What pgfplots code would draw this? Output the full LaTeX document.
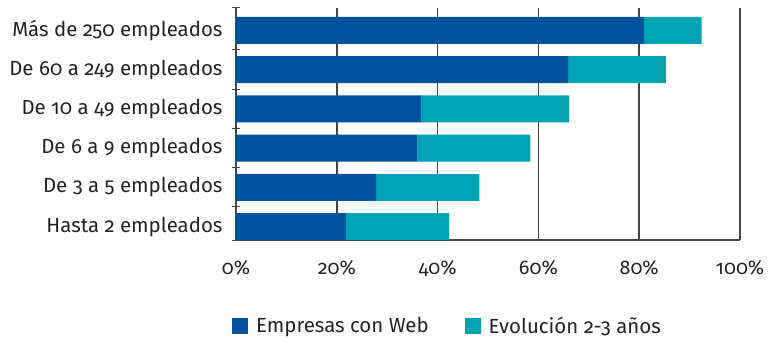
\documentclass[border=0pt]{standalone}
\usepackage{fontspec}
\setmainfont[Numbers=OldStyle]{Fira Sans}
\usepackage{pgfplots}
\pgfplotsset{compat=1.18}
\definecolor{cblue}{HTML}{00529C}
\definecolor{cteal}{HTML}{00A3B2}
\definecolor{cgrid}{HTML}{444444}
\definecolor{ctext}{HTML}{222222}
\begin{document}
\begin{tikzpicture}
\begin{axis}[
  scale only axis,
  width=504bp, height=232bp,
  xbar stacked,
  bar width=27bp,
  xmin=0, xmax=100,
  ymin=-0.343, ymax=5.57,
  xtick={0,20,40,60,80,100},
  xticklabel={\pgfmathprintnumber{\tick}\%},
  /pgf/number format/assume math mode=true,
  ytick={0,1,2,3,4,5},
  yticklabels={Hasta 2 empleados, De 3 a 5 empleados, De 6 a 9 empleados, De 10 a 49 empleados, De 60 a 249 empleados, Más de 250 empleados},
  minor ytick={-0.343,0.5,1.5,2.5,3.5,4.5,5.57},
  major tick length=0pt,
  minor tick length=8bp,
  tick align=center,
  axis x line*=bottom,
  axis y line*=left,
  axis line style={cgrid, line width=1.2bp},
  every tick/.style={cgrid, line width=1bp},
  xmajorgrids,
  major grid style={cgrid, line width=1.5bp},
  yticklabel style={font=\fontsize{20.5}{22}\selectfont, text=ctext, xshift=-10bp},
  xticklabel style={font=\fontsize{19.8}{22}\selectfont, text=ctext, yshift=-17bp},
  legend style={at={(-0.008,-0.37)}, anchor=west, draw=none, inner sep=0pt, legend columns=2,
    font=\fontsize{20.5}{22}\selectfont, text=ctext,
    /tikz/every odd column/.append style={column sep=6bp},
    /tikz/every even column/.append style={column sep=34bp}},
  legend image code/.code={\fill[#1] (0bp,-8bp) rectangle (16bp,8bp);},
]
\addplot[fill=cblue, draw=none] coordinates {(21.8,0) (27.8,1) (35.9,2) (36.7,3) (65.9,4) (81.0,5)};
\addplot[fill=cteal, draw=none] coordinates {(20.5,0) (20.5,1) (22.5,2) (29.4,3) (19.4,4) (11.4,5)};
\legend{Empresas con Web, Evolución 2-3 años}
\coordinate (bl) at (rel axis cs:0,0);
\coordinate (tr) at (rel axis cs:1,1);
\end{axis}
\pgfresetboundingbox
\path ([xshift=-236bp,yshift=-99bp]bl) rectangle ([xshift=30bp,yshift=8bp]tr);
\end{tikzpicture}
\end{document}
